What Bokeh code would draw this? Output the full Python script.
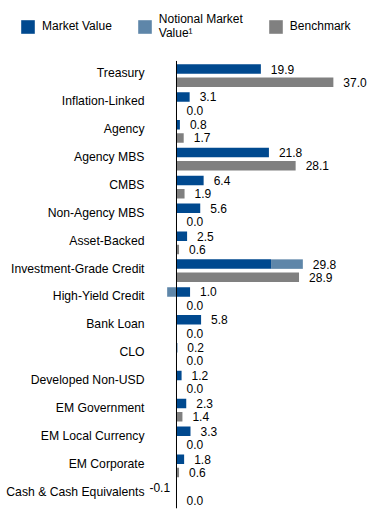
from bokeh.plotting import figure
from bokeh.models import ColumnDataSource, Range1d, Legend, LegendItem
from bokeh.core.properties import value
from bokeh.embed import file_html
from bokeh.resources import INLINE

categories = ["Treasury", "Inflation-Linked", "Agency", "Agency MBS", "CMBS",
              "Non-Agency MBS", "Asset-Backed", "Investment-Grade Credit",
              "High-Yield Credit", "Bank Loan", "CLO", "Developed Non-USD",
              "EM Government", "EM Local Currency", "EM Corporate",
              "Cash & Cash Equivalents"]
market_value = [19.9, 3.1, 0.8, 21.8, 6.4, 5.6, 2.5, 22.3, 3.2, 5.8, 0.2, 1.2, 2.3, 3.3, 1.8, -0.1]
notional = [0, 0, 0, 0, 0, 0, 0, 7.5, -2.2, 0, 0, 0, 0, 0, 0, 0]
benchmark = [37.0, 0.0, 1.7, 28.1, 1.9, 0.0, 0.6, 28.9, 0.0, 0.0, 0.0, 0.0, 1.4, 0.0, 0.6, 0.0]
legend_labels = ["Market Value", "Notional Market\nValue\u00b9", "Benchmark"]

MV_COLOR = "#00498F"
NL_COLOR = "#5E86A9"
BM_COLOR = "#808080"
FONT = "Liberation Sans"

n = len(categories)
row = list(range(n))                      # category order, top to bottom
MV_OFF = -0.161                           # market value bar sits above the row centre
BM_OFF = 0.312                            # benchmark bar sits below
H = 0.341

nl_left = [m if v > 0 else 0 for m, v in zip(market_value, notional)]
nl_right = [l + v for l, v in zip(nl_left, notional)]
totals = [round(m + v, 1) for m, v in zip(market_value, notional)]
pos_ext = [max(0, m) + max(0, v) for m, v in zip(market_value, notional)]
neg_ext = [min(0, m) + min(0, v) for m, v in zip(market_value, notional)]
mv_lab_x = [ne if t < 0 else pe for t, pe, ne in zip(totals, pos_ext, neg_ext)]
mv_align = ["right" if t < 0 else "left" for t in totals]
mv_off = [-6 if t < 0 else 10 for t in totals]

src = ColumnDataSource(dict(
    cat=categories, row=row,
    mv_y=[r + MV_OFF for r in row], bm_y=[r + BM_OFF for r in row],
    zero=[0] * n,
    mv=market_value, nl_left=nl_left, nl_right=nl_right, bm=benchmark,
    mv_lab_x=mv_lab_x, mv_lab=["%.1f" % t for t in totals],
    mv_align=mv_align, mv_off=mv_off,
    bm_lab=["%.1f" % b for b in benchmark],
))

W, HGT = 374, 516
p = figure(width=W, height=HGT,
           x_range=Range1d(-41.51, 46.70), y_range=Range1d(15.895, -2.619),
           x_axis_location=None, y_axis_location=None,
           output_backend="svg", toolbar_location=None,
           min_border=0, outline_line_color=None)
p.xgrid.visible = False
p.ygrid.visible = False

mv_r = p.hbar(y="mv_y", left=0, right="mv", height=H, source=src,
              fill_color=MV_COLOR, line_color=None)
nl_r = p.hbar(y="mv_y", left="nl_left", right="nl_right", height=H, source=src,
              fill_color=NL_COLOR, line_color=None)
bm_r = p.hbar(y="bm_y", left=0, right="bm", height=H, source=src,
              fill_color=BM_COLOR, line_color=None)

# category labels (right-aligned, left of the zero line)
p.text(x="zero", y="row", text="cat", source=src, x_offset=-32,
       text_align="right", text_baseline="middle",
       text_font=value(FONT), text_font_size="12.2px", text_color="black")

# value labels
p.text(x="mv_lab_x", y="mv_y", text="mv_lab", source=src,
       x_offset="mv_off", text_align="mv_align", text_baseline="middle",
       text_font=value(FONT), text_font_size="12px", text_color="black")
p.text(x="bm", y="bm_y", text="bm_lab", source=src,
       x_offset=10, text_align="left", text_baseline="middle",
       text_font=value(FONT), text_font_size="12px", text_color="black")

# zero line
p.segment(x0=[0], y0=[row[0] - 0.45], x1=[0], y1=[row[-1] + 0.6],
          line_color="black", line_width=1)

legend = Legend(items=[
    LegendItem(label=legend_labels[0], renderers=[mv_r]),
    LegendItem(label=legend_labels[1], renderers=[nl_r]),
    LegendItem(label=legend_labels[2], renderers=[bm_r]),
], orientation="horizontal", location=(19, HGT - 40),
    glyph_width=17, glyph_height=17, label_standoff=6, spacing=24,
    padding=0, margin=0, border_line_alpha=0, background_fill_alpha=0,
    label_text_font_size="12px", label_text_font=FONT,
    label_text_color="black", label_text_line_height=0.95)
p.add_layout(legend)

open("out.html", "w").write(file_html(p, INLINE))
